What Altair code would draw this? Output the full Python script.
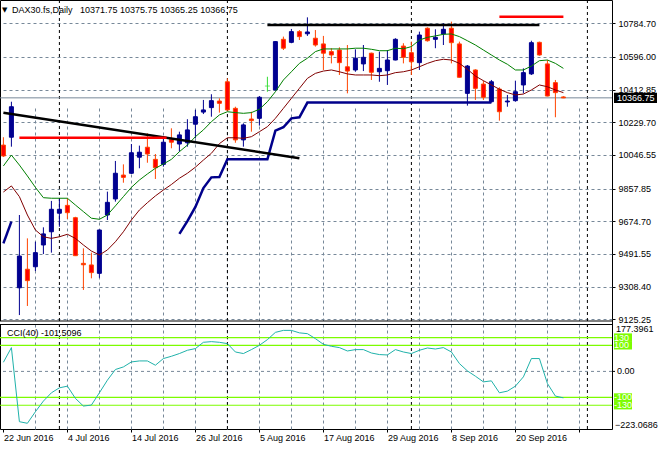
import altair as alt
import pandas as pd

# ---------------- data ----------------
symbol = "DAX30.fs"
period = "Daily"

opens = [10102, 10146, 9302, 9406, 9420, 9542, 9616, 9720, 9764, 9695,
         9439, 9430, 9383, 9710, 9800, 9934, 9944, 10034, 10090, 10022,
         9994, 10134, 10108, 10115, 10219, 10287, 10312, 10349, 10457, 10308,
         10131, 10248, 10252, 10433, 10411, 10695, 10678, 10738, 10726, 10701,
         10669, 10626, 10635, 10541, 10523, 10557, 10617, 10513, 10519, 10579,
         10657, 10620, 10564, 10757, 10695, 10725, 10757, 10669, 10392, 10523,
         10444, 10345, 10416, 10344, 10351, 10439, 10501, 10678, 10557, 10452, 10371.75]
highs = [10146, 10345, 9710, 9579, 9560, 9641, 9789, 9800, 9804, 9700,
         9523, 9499, 9628, 9841, 10013, 9994, 10108, 10099, 10168, 10052,
         10140, 10196, 10177, 10247, 10299, 10355, 10387, 10364, 10476, 10317,
         10224, 10289, 10377, 10485, 10684, 10710, 10753, 10747, 10818, 10747,
         10714, 10645, 10650, 10663, 10639, 10663, 10620, 10626, 10635, 10701,
         10673, 10682, 10738, 10762, 10751, 10785, 10794, 10682, 10551, 10527,
         10463, 10467, 10426, 10383, 10463, 10532, 10687, 10682, 10579, 10467, 10375.75]
lows = [10035, 10093, 9149, 9200, 9396, 9491, 9499, 9644, 9688, 9480,
        9290, 9355, 9358, 9682, 9785, 9891, 9940, 9972, 10003, 9912,
        9981, 10084, 10065, 10093, 10140, 10276, 10261, 10284, 10295, 10115,
        10093, 10177, 10211, 10401, 10409, 10635, 10673, 10691, 10714, 10654,
        10523, 10560, 10495, 10392, 10513, 10517, 10467, 10457, 10439, 10577,
        10560, 10495, 10523, 10682, 10645, 10663, 10560, 10480, 10323, 10355,
        10355, 10340, 10239, 10317, 10345, 10392, 10495, 10603, 10375, 10258, 10365.25]
closes = [10041, 10317, 9480, 9342, 9499, 9604, 9742, 9742, 9723, 9482,
          9431, 9387, 9626, 9781, 9944, 9921, 10059, 10062, 10052, 9975,
          10118, 10118, 10159, 10187, 10261, 10299, 10351, 10336, 10299, 10131,
          10215, 10239, 10370, 10433, 10682, 10645, 10738, 10710, 10736, 10663,
          10617, 10607, 10564, 10517, 10589, 10594, 10510, 10532, 10579, 10695,
          10594, 10569, 10719, 10687, 10706, 10751, 10676, 10482, 10545, 10420,
          10370, 10457, 10289, 10349, 10401, 10508, 10676, 10607, 10377, 10396, 10366.75]
ma_fast = [9985, 10046, 9990, 9929, 9865, 9807, 9804, 9804, 9804, 9766,
           9729, 9692, 9686, 9710, 9761, 9813, 9865, 9906, 9940, 9972,
           9996, 10022, 10065, 10102, 10149, 10187, 10233, 10271, 10289, 10284,
           10280, 10284, 10303, 10345, 10401, 10467, 10513, 10560, 10589, 10626,
           10641, 10641, 10641, 10641, 10645, 10645, 10639, 10631, 10631, 10645,
           10642, 10654, 10691, 10706, 10714, 10723, 10725, 10710, 10687, 10663,
           10635, 10607, 10579, 10555, 10523, 10523, 10545, 10575, 10579, 10560, 10532]
ma_slow = [9839, 9873, 9813, 9710, 9626, 9588, 9579, 9588, 9602, 9579,
           9542, 9508, 9486, 9514, 9560, 9616, 9682, 9738, 9779, 9817,
           9850, 9881, 9916, 9944, 9978, 10018, 10056, 10110, 10143, 10143,
           10140, 10149, 10177, 10205, 10252, 10308, 10364, 10420, 10476, 10504,
           10517, 10523, 10513, 10501, 10495, 10495, 10495, 10491, 10495, 10508,
           10513, 10523, 10541, 10560, 10575, 10583, 10579, 10560, 10527, 10489,
           10463, 10439, 10415, 10396, 10383, 10388, 10411, 10439, 10429, 10411, 10396]
cci = [35.0, 91.4, -193.1, -199.2, -154.9, -114.0, -82.2, -63.1, -56.6, -103.6,
       -133.1, -129.3, -82.2, -33.7, 7.3, 17.2, 36.3, 40.2, 40.2, 23.7,
       49.3, 58.1, 68.5, 81.1, 87.6, 111.7, 114.3, 111.7, 106.7, 74.6,
       68.5, 83.7, 100.2, 122.0, 149.9, 157.5, 157.5, 148.0, 144.9, 125.8,
       104.0, 96.4, 91.4, 78.4, 83.7, 83.7, 70.7, 64.6, 63.1, 83.7,
       74.6, 68.5, 81.1, 89.9, 86.0, 91.4, 74.6, 30.2, 1.9, -18.4,
       -40.2, -36.3, -82.2, -75.7, -56.6, -21.0, 49.3, 49.3, -46.3, -94.8, -101.5096]

trail_a_start = 0
trail_a = [9551, 9673]
trail_b_start = 22
trail_b = [9604, 9676, 9755, 9861, 9921, 9923, 10022, 10022, 10022, 10022,
           10022, 10022, 10183, 10202, 10252, 10258, 10340, 10340, 10340, 10340,
           10340, 10340, 10340, 10340, 10340, 10340, 10340, 10340, 10340, 10340,
           10340, 10340, 10340, 10340, 10340, 10340, 10340, 10340, 10340, 10340]

trend_bars = [0, 37]
trend_prices = [10283.5, 10028.4]
support_bars = [2, 20.4]
support_prices = [10143.4, 10143.4]
top_black_bars = [33, 67]
top_black_prices = [10775.1, 10775.1]
top_red_bars = [62, 70]
top_red_prices = [10821.7, 10821.7]

month_start_bars = [7, 28, 51, 73]
tick_labels = ["22 Jun 2016", "4 Jul 2016", "14 Jul 2016", "26 Jul 2016", "5 Aug 2016",
               "17 Aug 2016", "29 Aug 2016", "8 Sep 2016", "20 Sep 2016"]
price_ticks = [10784.70, 10596.00, 10412.85, 10229.70, 10046.55,
               9857.85, 9674.70, 9491.55, 9308.40, 9125.25]
price_range = [9115.8, 10915.3]
cci_range = [-223.0686, 177.3961]
cci_levels = [100, -100, 130, -130]
bar_range = [-0.425, 76.075]

# ---------------- tables ----------------
n = len(opens)
df = pd.DataFrame({
    "bar": list(range(n)), "open": opens, "high": highs, "low": lows, "close": closes,
    "ma_fast": ma_fast, "ma_slow": ma_slow, "cci": cci,
})
df["body_lo"] = df[["open", "close"]].min(axis=1)
df["body_hi"] = df[["open", "close"]].max(axis=1)

trail_df = pd.concat([
    pd.DataFrame({"bar": [trail_a_start + i for i in range(len(trail_a))], "val": trail_a, "seg": "a"}),
    pd.DataFrame({"bar": [trail_b_start + i for i in range(len(trail_b))], "val": trail_b, "seg": "b"}),
])
sep_df = pd.DataFrame({"bar": month_start_bars})
last = df.iloc[[-1]].copy()
last["header"] = (f"{symbol},{period}\u00a0\u00a0 {opens[-1]:.2f} {highs[-1]:.2f} "
                  f"{lows[-1]:.2f} {closes[-1]:.2f}")
last["cci_title"] = f"CCI(40) {cci[-1]:.4f}"
lev_df = pd.DataFrame({"level": cci_levels, "txt": [str(v) for v in cci_levels]})
ext_df = pd.DataFrame({"v": cci_range})
zero_df = pd.DataFrame({"v": [0.0]})

def seg_df(bars, prices):
    return pd.DataFrame({"bar": bars, "price": prices})

BULL = "#000090"
BEAR_FILL = "#ff0000"
BEAR_EDGE = "#ff4500"
DOJI = "#33dd33"
GRID = "#778899"
LEVEL = "#7cfc00"
FONT = "Liberation Sans"

# price panel occupies 0..321 px, CCI panel 325..429 px of one plot area
XS = alt.Scale(domain=bar_range, nice=False, zero=False, padding=0)
YS = alt.Scale(domain=price_range, range=[321, 0], nice=False, zero=False, padding=0)
YC = alt.Scale(domain=cci_range, range=[429.5, 325.2], nice=False, zero=False, padding=0)

arr = "[" + ",".join(f"'{s}'" for s in tick_labels) + "]"
label_expr = (f"datum.value % 8 == 0 && datum.value < {8 * len(tick_labels)} "
              f"? {arr}[datum.value / 8] : ''")
x_axis = alt.Axis(values=list(range(0, 76, 4)), labelExpr=label_expr, labelAlign="left",
                  labelFlush=False, labelOverlap=False, labelPadding=1, tickSize=3,
                  tickColor={"condition": {"test": "datum.value % 8 == 0", "value": "black"},
                             "value": "rgba(0,0,0,0)"},
                  gridOpacity={"condition": {"test": "datum.value == 0", "value": 0}, "value": 1},
                  grid=True, domain=False, title=None)
y_axis_main = alt.Axis(orient="right", values=price_ticks, format=".2f", tickSize=3,
                       labelPadding=3, grid=True, domain=False, title=None,
                       labelOverlap=False, labelFlush=False)

def X(f="bar"):
    return alt.X(f"{f}:Q", scale=XS, axis=x_axis)

def YM(f):
    return alt.Y(f"{f}:Q", scale=YS, axis=None)

def YCc(f):
    return alt.Y(f"{f}:Q", scale=YC, axis=None)

base = alt.Chart(df)
up = "datum.close > datum.open"
down = "datum.close < datum.open"
doji = "datum.close == datum.open"

L = []
# background structure
L.append(alt.Chart(sep_df).mark_rule(color="black", strokeDash=[3, 3], strokeWidth=1).encode(x=X()))
L.append(alt.Chart(last).mark_rule(color=GRID, strokeWidth=1)
         .encode(y=alt.Y("close:Q", scale=YS, axis=y_axis_main)))
L.append(alt.Chart(zero_df).mark_rule(color=GRID, strokeDash=[3, 3], strokeWidth=1).encode(y=YCc("v")))
L.append(alt.Chart(lev_df).mark_rule(color=LEVEL, strokeWidth=1.2).encode(y=YCc("level")))

# candles
L.append(base.transform_filter(up).mark_rule(color=BULL, strokeWidth=1)
         .encode(x=X(), y=YM("low"), y2="high:Q"))
L.append(base.transform_filter(down).mark_rule(color=BEAR_EDGE, strokeWidth=1)
         .encode(x=X(), y=YM("low"), y2="high:Q"))
L.append(base.transform_filter(doji).mark_rule(color=DOJI, strokeWidth=1)
         .encode(x=X(), y=YM("low"), y2="high:Q"))
L.append(base.transform_filter(up).mark_bar(width=4, color=BULL, stroke=BULL, strokeWidth=1)
         .encode(x=X(), y=YM("body_lo"), y2="body_hi:Q"))
L.append(base.transform_filter(down).mark_bar(width=4, color=BEAR_FILL, stroke=BEAR_EDGE, strokeWidth=1)
         .encode(x=X(), y=YM("body_lo"), y2="body_hi:Q"))
L.append(base.transform_filter(doji).mark_tick(orient="horizontal", color=DOJI, size=5, thickness=1)
         .encode(x=X(), y=YM("open")))

# indicators
L.append(base.mark_line(color="#008000", strokeWidth=1).encode(x=X(), y=YM("ma_fast")))
L.append(base.mark_line(color="#800000", strokeWidth=1).encode(x=X(), y=YM("ma_slow")))
L.append(alt.Chart(trail_df).mark_line(color="#00008b", strokeWidth=2.5)
         .encode(x=X(), y=YM("val"), detail="seg:N"))
L.append(base.mark_line(color="#20b2aa", strokeWidth=1).encode(x=X(), y=YCc("cci")))

# drawn objects
L.append(alt.Chart(seg_df(trend_bars, trend_prices)).mark_line(color="black", strokeWidth=2.5)
         .encode(x=X(), y=YM("price")))
L.append(alt.Chart(seg_df(support_bars, support_prices)).mark_line(color="#ff0000", strokeWidth=2.5)
         .encode(x=X(), y=YM("price")))
L.append(alt.Chart(seg_df(top_black_bars, top_black_prices)).mark_line(color="black", strokeWidth=2.5)
         .encode(x=X(), y=YM("price")))
L.append(alt.Chart(seg_df(top_red_bars, top_red_prices)).mark_line(color="#ff0000", strokeWidth=2.5)
         .encode(x=X(), y=YM("price")))

# gap between the two panels with its double border
L.append(alt.Chart(last).mark_rect(color="white")
         .encode(x=alt.value(0), x2=alt.value(612), y=alt.value(321), y2=alt.value(324.5)))
L.append(alt.Chart(last).mark_rule(color="black", strokeWidth=1)
         .encode(x=alt.value(0), x2=alt.value(612), y=alt.value(321)))
L.append(alt.Chart(last).mark_rule(color="black", strokeWidth=1)
         .encode(x=alt.value(0), x2=alt.value(612), y=alt.value(324.5)))

# header texts
L.append(alt.Chart(last).mark_text(text="\u25bc", font="DejaVu Sans", fontSize=7,
                                   align="left", baseline="middle", color="black")
         .encode(x=alt.value(2), y=alt.value(10)))
L.append(alt.Chart(last).mark_text(font=FONT, fontSize=9, align="left", baseline="middle", color="black")
         .encode(x=alt.value(12), y=alt.value(10), text="header:N"))
L.append(alt.Chart(last).mark_text(font=FONT, fontSize=9, align="left", baseline="middle", color="black")
         .encode(x=alt.value(7), y=alt.value(333), text="cci_title:N"))

# current price box
L.append(alt.Chart(last).mark_point(shape="M-1,-0.24H1V0.24H-1Z", filled=True, size=1849,
                                    color="black", opacity=1)
         .encode(x=alt.value(635.5), y=YM("close")))
L.append(alt.Chart(last).mark_text(font=FONT, fontSize=9, align="left", baseline="middle", color="white")
         .encode(x=alt.value(617), y=YM("close"), text=alt.Text("close:Q", format=".2f")))

# CCI scale labels
for lv in cci_levels:
    sub = alt.Chart(lev_df).transform_filter(f"datum.level == {lv}")
    L.append(sub.mark_point(shape="M-1,-0.46H1V0.46H-1Z", filled=True, size=324, color=LEVEL, opacity=1)
             .encode(x=alt.value(623), y=YCc("level")))
    L.append(sub.mark_text(font=FONT, fontSize=9, align="left", baseline="middle", color="white")
             .encode(x=alt.value(614), y=YCc("level"), text="txt:N"))
L.append(alt.Chart(ext_df).transform_filter("datum.v > 0")
         .mark_text(font=FONT, fontSize=9, align="left", baseline="top", color="black")
         .encode(x=alt.value(616), y=YCc("v"), text=alt.Text("v:Q", format=".4f")))
L.append(alt.Chart(ext_df).transform_filter("datum.v < 0")
         .mark_text(font=FONT, fontSize=9, align="left", baseline="bottom", color="black")
         .encode(x=alt.value(615), y=YCc("v"), text=alt.Text("v:Q", format=".4f")))
L.append(alt.Chart(zero_df)
         .mark_text(font=FONT, fontSize=9, align="left", baseline="middle", color="black")
         .encode(x=alt.value(617), y=YCc("v"), text=alt.Text("v:Q", format=".2f")))
L.append(alt.Chart(zero_df).mark_rule(color="black", strokeWidth=1)
         .encode(x=alt.value(612), x2=alt.value(615), y=YCc("v")))

chart = (alt.layer(*L)
         .resolve_scale(y="independent")
         .properties(width=612, height=429,
                     autosize=alt.AutoSizeParams(type="none"),
                     padding={"left": 0, "top": 0, "right": 48, "bottom": 21},
                     background="white")
         .configure_view(stroke="black", strokeWidth=1)
         .configure_axis(labelFont=FONT, labelFontSize=9, labelColor="black", tickColor="black",
                         gridColor=GRID, gridDash=[3, 3], gridWidth=1))

chart.save("out.html", embed_options={"renderer": "svg", "actions": False})
